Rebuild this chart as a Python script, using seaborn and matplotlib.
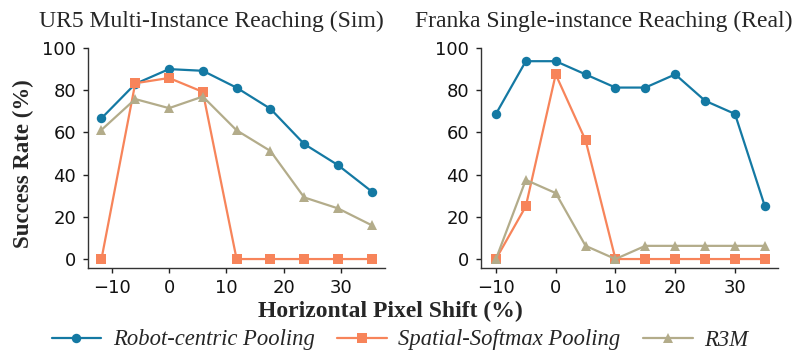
import numpy as np
import pandas as pd
import seaborn as sns
import matplotlib
matplotlib.use("Agg")
import matplotlib.pyplot as plt

sns.set_theme(style="ticks")
plt.rcParams['font.family'] = ['DejaVu Sans']

methods = ["Robot-centric Pooling", "Spatial-Softmax Pooling", "R3M"]
colors = ["#1479a3", "#f7845a", "#b3ac8a"]
markers = ["o", "s", "^"]

sim_shift = [-11.76, -5.88, 0.0, 5.88, 11.76, 17.65, 23.53, 29.41, 35.29]
sim_robot = [66.7, 83.0, 90.0, 89.2, 81.2, 71.2, 54.5, 44.5, 32.0]
sim_spatial = [0.0, 83.3, 85.8, 79.2, 0.0, 0.0, 0.0, 0.0, 0.0]
sim_r3m = [61.2, 75.8, 71.5, 77.0, 61.0, 51.2, 29.2, 24.0, 16.0]

real_shift = [-10, -5, 0, 5, 10, 15, 20, 25, 30, 35]
real_robot = [68.75, 93.75, 93.75, 87.5, 81.25, 81.25, 87.5, 75.0, 68.75, 25.0]
real_spatial = [0.0, 25.0, 87.5, 56.25, 0.0, 0.0, 0.0, 0.0, 0.0, 0.0]
real_r3m = [0.0, 37.5, 31.25, 6.25, 0.0, 6.25, 6.25, 6.25, 6.25, 6.25]

titles = ["UR5 Multi-Instance Reaching (Sim)", "Franka Single-instance Reaching (Real)"]

def make_df(shift, series):
    rows = []
    for m, vals in zip(methods, series):
        for x, y in zip(shift, vals):
            rows.append({"shift": x, "rate": y, "method": m})
    return pd.DataFrame(rows)

dfs = [make_df(sim_shift, [sim_robot, sim_spatial, sim_r3m]),
       make_df(real_shift, [real_robot, real_spatial, real_r3m])]

fig = plt.figure(figsize=(8.01, 3.54), dpi=100)
ax1 = fig.add_axes([0.1099, 0.2438, 0.3708, 0.6206])
ax2 = fig.add_axes([0.6005, 0.2438, 0.3708, 0.6206])
axes = [ax1, ax2]

serif = ['Liberation Serif', 'DejaVu Serif']
for ax, df in zip(axes, dfs):
    for m, c, mk in zip(methods, colors, markers):
        sub = df[df["method"] == m]
        sns.lineplot(data=sub, x="shift", y="rate", ax=ax, color=c, marker=mk,
                     markersize=6.8, markeredgewidth=0, linewidth=1.6, label=m, legend=False)
    ax.set_ylim(-4.1, 100)
    ax.set_yticks([0, 20, 40, 60, 80, 100])
    ax.set_xticks([-10, 0, 10, 20, 30])
    ax.tick_params(labelsize=13, length=3.5, width=1, colors="#222222", labelcolor="#111111")
    ax.tick_params(axis="y", pad=5)
    ax.tick_params(axis="x", pad=4.5)
    ax.set_xlabel("")
    ax.set_ylabel("")
    sns.despine(ax=ax)
    for s in ["left", "bottom"]:
        ax.spines[s].set_color("#333333")
        ax.spines[s].set_linewidth(1.0)
ax1.set_xlim(-14.1, 37.6)
ax2.set_xlim(-12.5, 37.2)

fig.text(211.5 / 801, 1 - 21.5 / 354, titles[0], ha="center", va="center", fontsize=17, family=serif)
fig.text(604 / 801, 1 - 21.5 / 354, titles[1], ha="center", va="center", fontsize=17, family=serif)

fig.text(23 / 801, 1 - 164 / 354, "Success Rate (%)", ha="center", va="center", rotation=90,
         fontsize=16.5, family=serif, fontweight="bold")
fig.text(390 / 801, 1 - 311 / 354, "Horizontal Pixel Shift (%)", ha="center", va="center",
         fontsize=17, family=serif, fontweight="bold")

handles, labels = ax1.get_legend_handles_labels()
fig.legend(handles, labels, loc="center", bbox_to_anchor=(400 / 801, 1 - 340 / 354), ncol=3,
           frameon=False, prop={"family": serif, "style": "italic", "size": 16.3},
           handlelength=2.2, columnspacing=1.0, handletextpad=0.5, borderaxespad=0, borderpad=0)

fig.savefig("out.png", dpi=100)
